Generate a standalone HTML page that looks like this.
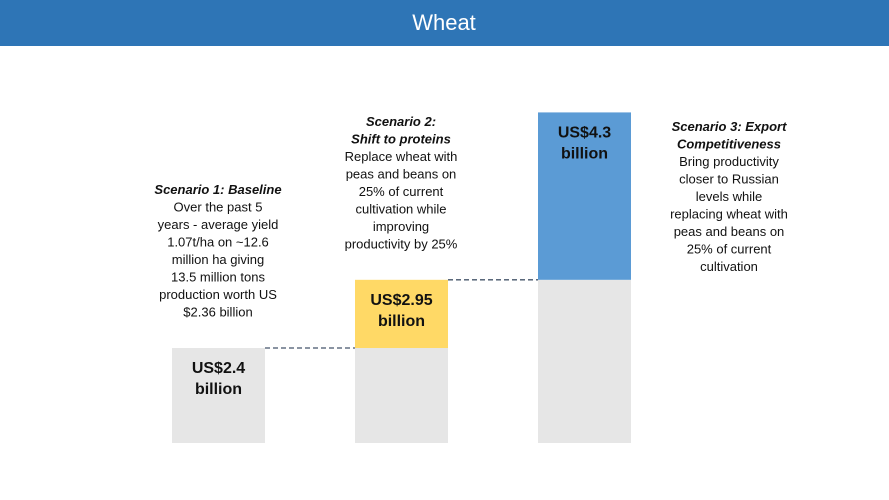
<!DOCTYPE html>
<html><head><meta charset="utf-8"><style>
body{margin:0;background:#fff;}
svg{display:block;font-family:"Liberation Sans",sans-serif;}
</style></head><body>
<svg id="chart" width="889" height="500">
<rect x="0" y="0" width="889" height="46" fill="#2e75b6"/>
<text x="444" y="30" text-anchor="middle" fill="#fff" font-size="22">Wheat</text>
<g id="marks"></g>
</svg>
<script>
const scenarios = ["Scenario 1", "Scenario 2", "Scenario 3"];
const values = [2.4, 2.95, 4.3];
const labels = ["US$2.4", "US$2.95", "US$4.3"];
const NS = "http://www.w3.org/2000/svg";
const g = document.getElementById("marks");
const baseY = 443, vMin = 1.634, k = 124;
function y(v){ return baseY - (v - vMin) * k; }
const barX = [172, 355, 538], barW = 93;
const colors = ["#e6e6e6", "#ffd966", "#5b9bd5"];
function mk(tag, attrs){ const e = document.createElementNS(NS, tag); for (const a in attrs) e.setAttribute(a, attrs[a]); g.appendChild(e); return e; }
for (let i = 0; i < values.length; i++) {
  const prev = i === 0 ? vMin : values[i-1];
  if (i > 0) {
    const base = mk("rect", {x: barX[i], y: y(prev), width: barW, height: baseY - y(prev), fill: "#e6e6e6"});
    
    
  }
  const r = mk("rect", {x: barX[i], y: y(values[i]), width: barW, height: y(prev) - y(values[i]), fill: colors[i]});
  
  
  const t1 = mk("text", {x: barX[i] + barW/2, y: y(values[i]) + 25, "text-anchor": "middle", "font-size": "16", "font-weight": "bold", fill: "#111"});
  t1.textContent = labels[i];
  
  
  const t2 = mk("text", {x: barX[i] + barW/2, y: y(values[i]) + 46, "text-anchor": "middle", "font-size": "16", "font-weight": "bold", fill: "#111"});
  t2.textContent = "billion";
  
  
  if (i < values.length - 1) {
    const l = mk("line", {x1: barX[i] + barW, x2: barX[i+1], y1: y(values[i]), y2: y(values[i]), stroke: "#44546a", "stroke-width": "1.3", "stroke-dasharray": "5,3"});
    
    
  }
}
const notes = [
  {x: 218, y0: 194, lines: [["Scenario 1: Baseline", true], ["Over the past 5"], ["years - average yield"], ["1.07t/ha on ~12.6"], ["million ha giving"], ["13.5 million tons"], ["production worth US"], ["$2.36 billion"]]},
  {x: 401, y0: 126, lines: [["Scenario 2:", true], ["Shift to proteins", true], ["Replace wheat with"], ["peas and beans on"], ["25% of current"], ["cultivation while"], ["improving"], ["productivity by 25%"]]},
  {x: 729, y0: 131, lines: [["Scenario 3: Export", true], ["Competitiveness", true], ["Bring productivity"], ["closer to Russian"], ["levels while"], ["replacing wheat with"], ["peas and beans on"], ["25% of current"], ["cultivation"]]}
];
notes.forEach((n, i) => {
  n.lines.forEach((ln, j) => {
    const t = mk("text", {x: n.x, y: n.y0 + j * 17.5, "text-anchor": "middle", "font-size": "13", fill: "#111"});
    if (ln[1]) { t.setAttribute("font-weight", "bold"); t.setAttribute("font-style", "italic"); }
    t.textContent = ln[0];
    
    
  });
});
</script>
</body></html>
